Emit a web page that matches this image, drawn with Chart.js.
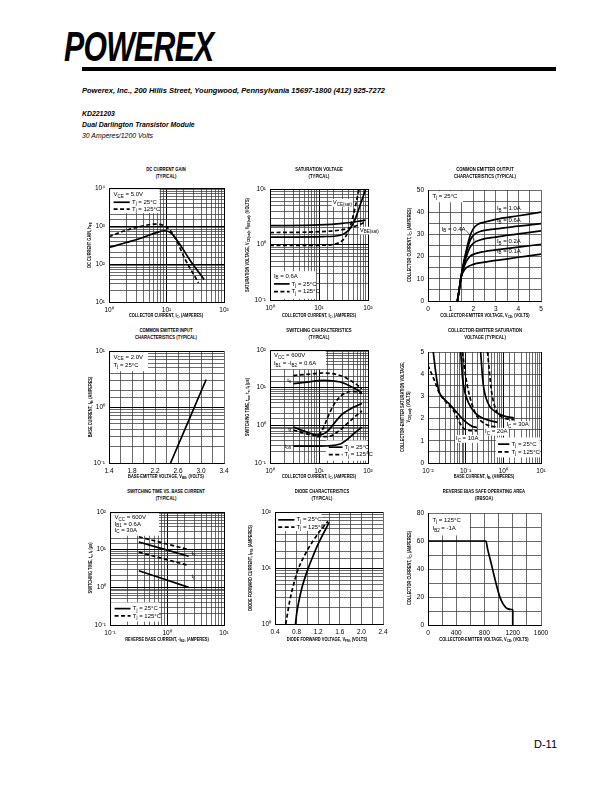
<!DOCTYPE html>
<html>
<head>
<meta charset="utf-8">
<script src="https://cdn.jsdelivr.net/npm/chart.js@4.4.1/dist/chart.umd.min.js"></script>
<style>
body{margin:0;width:612px;height:792px;position:relative;overflow:hidden;background:#fff;color:#000;font-family:"Liberation Sans",Arial,sans-serif}
canvas{position:absolute}
.abs{position:absolute;white-space:nowrap}
#logo{left:64px;top:26px;font:italic bold 42px "Liberation Sans",Arial,sans-serif;line-height:42px;letter-spacing:-1px;transform:scaleX(0.72);transform-origin:0 0}
#rule{left:82px;top:67px;width:474px;height:4px;background:#000}
.hd{left:82px;font:italic bold 8px "Liberation Sans",Arial,sans-serif;line-height:11px;transform:scaleX(0.86);transform-origin:0 0}
#addr{transform:scaleX(0.94)}
.ttl{position:absolute;white-space:nowrap;font-weight:bold;font-size:5.6px;line-height:6.8px;text-align:center;transform:translateX(-50%) scaleX(0.75)}
.xt{position:absolute;white-space:nowrap;font-weight:bold;font-size:4.8px;line-height:5px;text-align:center;transform:translate(-50%,-50%) scaleX(0.82)}
.yt{position:absolute;white-space:nowrap;font-weight:bold;font-size:4.8px;line-height:6px;text-align:center;transform:translate(-50%,-50%) rotate(-90deg) scaleX(0.82)}
.xt sub,.yt sub{font-size:3.8px;vertical-align:baseline;position:relative;top:1.2px}
#page{left:534px;top:738px;font-size:11px}
</style>
</head>
<body>
<div id="logo" class="abs">POWEREX</div>
<div id="rule" class="abs"></div>
<div id="addr" class="abs hd" style="top:85px">Powerex, Inc., 200 Hillis Street, Youngwood, Pennsylvania 15697-1800 (412) 925-7272</div>
<div class="abs hd" style="top:108px">KD221203<br>Dual Darlington Transistor Module<br><span style="font-weight:normal">30 Amperes/1200 Volts</span></div>
<div id="page" class="abs">D-11</div>
<script>
// ---- DC current gain (VCE = 5.0V)
const gainIc25 = [1, 2, 3.9, 6.7, 9.3, 12.2, 17, 26, 45];
const gain25 = [272, 367, 497, 670, 750, 640, 330, 122, 39];
const gainIc125 = [1, 2, 3.9, 6.2, 8.7, 11.4, 15, 21, 36];
const gain125 = [525, 770, 1000, 1120, 1050, 790, 410, 135, 32];

// ---- saturation voltage (IB = 0.6A)
const vbeIc = [1, 10, 30, 60, 88];
const vbe25 = [2.18, 2.25, 2.4, 2.6, 2.75];
const vbe125 = [1.64, 1.7, 1.85, 2.2, 2.55];
const vceIc25 = [1, 12.5, 27, 37, 47, 55, 67, 79, 90];
const vce25 = [1.36, 1.39, 1.47, 1.69, 2.18, 2.9, 4.75, 7.2, 10];
const vceIc125 = [1, 12.5, 23, 32, 40, 49, 57, 66];
const vce125 = [0.96, 0.97, 1.04, 1.24, 1.76, 3.1, 5.5, 10];

// ---- output characteristics (Tj = 25C)
const outV1 = [1.3, 1.38, 1.45, 1.55, 1.7, 2.0, 2.5, 3, 4, 5];
const outIb01 = [0, 5, 10, 13, 15, 16.5, 17.5, 18.3, 19.7, 21.1];
const outV2 = [1.3, 1.38, 1.45, 1.55, 1.7, 1.85, 2.0, 2.5, 3, 4, 5];
const outIb02 = [0, 5, 10, 14, 18, 20, 21, 22.3, 23, 24.3, 25.5];
const outV3 = [1.3, 1.38, 1.45, 1.55, 1.7, 1.85, 2.0, 2.3, 3, 4, 5];
const outIb04 = [0, 5, 10, 15, 20, 24, 26, 27.5, 28.8, 30.2, 31.6];
const outIb06 = [0, 5, 10, 15.5, 22, 27, 29.5, 31.3, 32.5, 33.7, 34.9];
const outV4 = [1.3, 1.38, 1.45, 1.55, 1.7, 1.85, 2.0, 2.2, 2.5, 3, 4, 5];
const outIb10 = [0, 5, 10, 16, 23, 29, 32.5, 34.5, 35.5, 36.8, 38.4, 40];

// ---- input characteristics (VCE = 2.0V)
const inVbe = [2.47, 2.8, 3.09];
const inIb = [0.1, 0.62, 3.1];

// ---- switching characteristics
const tsIc = [3, 5.7, 12.5, 27, 50, 75];
const ts25 = [12.8, 14.1, 15.7, 14.1, 10, 7.4];
const ts125 = [21, 22.6, 24.5, 21, 14, 9.4];
const tfIc25 = [3, 5, 10, 15, 20, 30, 50, 75];
const tf25 = [0.9, 0.7, 0.55, 0.7, 1.1, 2.0, 3.0, 3.8];
const tfIc125 = [3, 5, 9, 12, 15, 20, 30, 50, 75];
const tf125 = [0.75, 0.62, 0.53, 0.8, 1.6, 3.5, 6.5, 8, 7];
const tonIc25 = [3, 10, 27, 40, 55, 75];
const ton25 = [0.28, 0.28, 0.32, 0.45, 0.65, 0.9];
const tonIc125 = [9, 15, 25, 40, 60, 75];
const ton125 = [0.5, 0.5, 0.7, 1.2, 1.9, 2.4];

// ---- CE saturation voltage vs base current
const sat10Ib25 = [0.0138, 0.016, 0.019, 0.022, 0.035, 0.06, 0.1, 0.15, 0.2];
const sat10v25 = [5, 4.1, 3.3, 3.05, 2.7, 2.25, 1.85, 1.65, 1.6];
const sat10Ib125 = [0.01, 0.015, 0.02, 0.03, 0.05, 0.07, 0.09, 0.12, 0.2];
const sat10v125 = [4.4, 3.7, 3.15, 2.75, 2.3, 1.8, 1.55, 1.47, 1.45];
const sat20Ib25 = [0.074, 0.083, 0.095, 0.12, 0.18, 0.3, 0.7];
const sat20v25 = [5, 3.8, 3.2, 2.7, 2.25, 2.0, 1.83];
const sat20Ib125 = [0.082, 0.1, 0.12, 0.15, 0.2, 0.3, 0.5, 0.65];
const sat20v125 = [5, 3.9, 3.2, 2.6, 2.1, 1.8, 1.65, 1.63];
const sat30Ib25 = [0.25, 0.29, 0.39, 0.59, 1.08, 1.9];
const sat30v25 = [5, 3.6, 2.7, 2.33, 2.11, 2.03];
const sat30Ib125 = [0.38, 0.48, 0.59, 0.83, 1.9];
const sat30v125 = [5, 3.3, 2.56, 2.11, 1.95];

// ---- switching time vs reverse base current
const rbIb = [0.32, 2.4];
const rbTs25 = [16, 6.7];
const rbTs125 = [22, 10];
const rbTf125 = [8.6, 3.8];
const rbTf25 = [2.75, 1.0];

// ---- diode characteristics
const diodeV25 = [0.78, 0.8, 0.84, 0.9, 1.0, 1.1, 1.2, 1.3, 1.4];
const diodeI25 = [1, 1.5, 2.5, 4.5, 9, 16, 27, 42, 65];
const diodeV125 = [0.6, 0.63, 0.67, 0.73, 0.82, 0.95, 1.1, 1.25, 1.38];
const diodeI125 = [1, 1.5, 2.5, 4.5, 9, 17, 30, 48, 68];

// ---- RBSOA
const soaV = [0, 820, 845, 890, 935, 980, 1025, 1070, 1130, 1200];
const soaI = [60, 60, 54, 45, 35.5, 26.5, 19, 14.5, 11.5, 11];
const soaDropV = [1200, 1200];
const soaDropI = [11, 0];

// plot areas on the page
const PLOTS = {
  gain: { x: 109, y: 188, w: 115, h: 114 },
  sat: { x: 270, y: 189, w: 98, h: 111 },
  out: { x: 428, y: 190, w: 113, h: 111 },
  inp: { x: 109, y: 351, w: 115, h: 112 },
  sw: { x: 270, y: 350, w: 98, h: 113 },
  cesat: { x: 428, y: 352, w: 113, h: 111 },
  swib: { x: 110, y: 512, w: 114, h: 113 },
  diode: { x: 275, y: 512, w: 108, h: 112 },
  soa: { x: 428, y: 513, w: 113, h: 112 }
};

const PAD_L = 30, PAD_T = 8, PAD_R = 26, PAD_B = 14;
const NOTE_SIZE = 6;
const FONT = '"Liberation Sans", Arial, sans-serif';
Chart.defaults.font.family = FONT;
Chart.defaults.color = '#000';

const tickFont = { family: FONT, size: 6.5 };

function isPow10(v) {
  const l = Math.log10(v);
  return Math.abs(l - Math.round(l)) < 1e-6;
}

function sup(n) {
  const m = { '-': '\u207B', '0': '\u2070', '1': '\u00B9', '2': '\u00B2', '3': '\u00B3', '4': '\u2074' };
  return String(n).split('').map(c => m[c]).join('');
}

function fitFor(pos) {
  return pos === 'left' ? s => { s.width = PAD_L; } : s => { s.height = PAD_B; };
}

function logAxis(min, max, pos) {
  return {
    type: 'logarithmic', position: pos, min, max,
    border: { color: '#000', width: 1 },
    grid: {
      drawTicks: false,
      color: c => (c.tick && isPow10(c.tick.value)) ? '#000' : '#3a3a3a',
      lineWidth: c => (c.tick && isPow10(c.tick.value)) ? 1 : 0.75
    },
    ticks: {
      autoSkip: false, maxRotation: 0, minRotation: 0, font: tickFont, color: '#000', padding: 4,
      callback: v => isPow10(v) ? '10' + sup(Math.round(Math.log10(v))) : ''
    },
    afterFit: fitFor(pos)
  };
}

function linAxis(min, max, step, every, dec, pos) {
  return {
    type: 'linear', position: pos, min, max,
    border: { color: '#000', width: 1 },
    grid: { drawTicks: false, color: '#3a3a3a', lineWidth: 0.75 },
    ticks: {
      stepSize: step, autoSkip: false, maxTicksLimit: 50, maxRotation: 0, minRotation: 0,
      font: tickFont, color: '#000', padding: 4,
      callback: v => {
        const k = (v - min) / every;
        return Math.abs(k - Math.round(k)) < 1e-6 ? v.toFixed(dec) : '';
      }
    },
    afterFit: fitFor(pos)
  };
}

function curve(xs, ys, dashed, straight) {
  return {
    data: xs.map((x, i) => ({ x, y: ys[i] })),
    borderColor: '#000',
    borderWidth: 1.7,
    borderDash: dashed ? [4, 2.5] : [],
    pointRadius: 0,
    fill: false,
    tension: straight ? 0 : 0.4,
    cubicInterpolationMode: straight ? 'default' : 'monotone'
  };
}

// text with _{...} subscripts
function drawRich(ctx, str, x, y, size, align, bg) {
  const parts = [];
  const re = /_\{([^}]*)\}/g;
  let last = 0, m;
  while ((m = re.exec(str))) {
    if (m.index > last) parts.push({ t: str.slice(last, m.index), sub: false });
    parts.push({ t: m[1], sub: true });
    last = re.lastIndex;
  }
  if (last < str.length) parts.push({ t: str.slice(last), sub: false });
  let w = 0;
  parts.forEach(p => {
    ctx.font = (p.sub ? size * 0.75 : size) + 'px ' + FONT;
    p.w = ctx.measureText(p.t).width;
    w += p.w;
  });
  let cx = align === 'right' ? x - w : align === 'center' ? x - w / 2 : x;
  if (bg) {
    ctx.fillStyle = '#fff';
    ctx.fillRect(cx - 1, y - size * 0.6, w + 2, size * 1.3);
  }
  ctx.fillStyle = '#000';
  ctx.textAlign = 'left';
  ctx.textBaseline = 'middle';
  parts.forEach(p => {
    ctx.font = (p.sub ? size * 0.75 : size) + 'px ' + FONT;
    ctx.fillText(p.t, cx, p.sub ? y + size * 0.3 : y);
    cx += p.w;
  });
}

const notesPlugin = {
  id: 'notes',
  beforeDatasetsDraw(chart) {
    const notes = chart.canvas.notes || {};
    const { ctx, chartArea: a } = chart;
    ctx.save();
    ctx.fillStyle = '#fff';
    (notes.boxes || []).forEach(b => {
      ctx.fillRect(a.left + b[0] * a.width, a.top + b[1] * a.height, b[2] * a.width, b[3] * a.height);
    });
    ctx.restore();
  },
  afterDatasetsDraw(chart) {
    const notes = chart.canvas.notes || {};
    const { ctx, chartArea: a, scales } = chart;
    const px = it => it.fx !== undefined ? a.left + it.fx * a.width : scales.x.getPixelForValue(it.x);
    const py = it => it.fy !== undefined ? a.top + it.fy * a.height : scales.y.getPixelForValue(it.y);
    ctx.save();
    ctx.strokeStyle = '#000';
    // legend line samples: [fx1, fx2, fy, dashed]
    (notes.samples || []).forEach(s => {
      ctx.lineWidth = 1.7;
      ctx.setLineDash(s[3] ? [4, 2.5] : []);
      ctx.beginPath();
      ctx.moveTo(a.left + s[0] * a.width, a.top + s[2] * a.height);
      ctx.lineTo(a.left + s[1] * a.width, a.top + s[2] * a.height);
      ctx.stroke();
    });
    ctx.setLineDash([]);
    // leader lines in data units: [x1, y1, x2, y2]
    (notes.leaders || []).forEach(l => {
      ctx.lineWidth = 0.6;
      ctx.beginPath();
      ctx.moveTo(scales.x.getPixelForValue(l[0]), scales.y.getPixelForValue(l[1]));
      ctx.lineTo(scales.x.getPixelForValue(l[2]), scales.y.getPixelForValue(l[3]));
      ctx.stroke();
    });
    (notes.texts || []).forEach(t => drawRich(ctx, t.t, px(t), py(t), NOTE_SIZE, t.al || 'left', t.bg));
    ctx.restore();
  }
};

function makeChart(plot, xScale, yScale, datasets, notes) {
  const canvas = document.createElement('canvas');
  canvas.width = plot.w + PAD_L + PAD_R;
  canvas.height = plot.h + PAD_T + PAD_B;
  canvas.style.left = (plot.x - PAD_L) + 'px';
  canvas.style.top = (plot.y - PAD_T) + 'px';
  canvas.notes = notes;
  document.body.appendChild(canvas);
  return new Chart(canvas, {
    type: 'line',
    data: { datasets },
    options: {
      responsive: false,
      animation: false,
      events: [],
      layout: { padding: { left: 0, top: PAD_T, right: PAD_R, bottom: 0 } },
      scales: { x: xScale, y: yScale },
      plugins: { legend: { display: false }, tooltip: { enabled: false } }
    },
    plugins: [notesPlugin]
  });
}

function addText(cls, x, y, html) {
  const d = document.createElement('div');
  d.className = cls;
  d.style.left = x + 'px';
  d.style.top = y + 'px';
  d.innerHTML = html;
  document.body.appendChild(d);
}

const TJ25 = 'T_{j} = 25\u00B0C', TJ125 = 'T_{j} = 125\u00B0C';

// 1. DC current gain
makeChart(PLOTS.gain, logAxis(1, 100, 'bottom'), logAxis(10, 10000, 'left'), [
  curve(gainIc25, gain25, false),
  curve(gainIc125, gain125, true)
], {
  boxes: [[0.01, 0.01, 0.43, 0.21]],
  samples: [[0.04, 0.18, 0.125, false], [0.04, 0.18, 0.185, true]],
  texts: [
    { fx: 0.04, fy: 0.06, t: 'V_{CE} = 5.0V' },
    { fx: 0.2, fy: 0.125, t: TJ25 },
    { fx: 0.2, fy: 0.185, t: TJ125 }
  ]
});

// 2. saturation voltage
makeChart(PLOTS.sat, logAxis(1, 100, 'bottom'), logAxis(0.1, 10, 'left'), [
  curve(vbeIc, vbe25, false),
  curve(vbeIc, vbe125, true),
  curve(vceIc25, vce25, false),
  curve(vceIc125, vce125, true)
], {
  boxes: [[0.01, 0.74, 0.46, 0.25]],
  samples: [[0.04, 0.2, 0.855, false], [0.04, 0.2, 0.925, true]],
  texts: [
    { fx: 0.04, fy: 0.785, t: 'I_{B} = 0.6A' },
    { fx: 0.22, fy: 0.855, t: TJ25 },
    { fx: 0.22, fy: 0.925, t: TJ125 },
    { x: 30, y: 5.7, t: 'V_{CE(sat)}', al: 'center', bg: true },
    { x: 68, y: 1.8, t: 'V_{BE(sat)}', bg: true }
  ]
});

// 3. output characteristics
makeChart(PLOTS.out, linAxis(0, 5, 0.5, 1, 0, 'bottom'), linAxis(0, 50, 5, 10, 0, 'left'), [
  curve(outV1, outIb01, false),
  curve(outV2, outIb02, false),
  curve(outV3, outIb04, false),
  curve(outV3, outIb06, false),
  curve(outV4, outIb10, false)
], {
  boxes: [[0.01, 0.01, 0.3, 0.1]],
  leaders: [[1.68, 31.8, 2.08, 27.2]],
  texts: [
    { fx: 0.04, fy: 0.055, t: TJ25 },
    { x: 3.05, y: 41.6, t: 'I_{B} = 1.0A' },
    { x: 3.05, y: 36.2, t: 'I_{B} = 0.6A' },
    { x: 1.66, y: 32.4, t: 'I_{B} = 0.4A', al: 'right' },
    { x: 3.05, y: 26.8, t: 'I_{B} = 0.2A' },
    { x: 3.05, y: 22.4, t: 'I_{B} = 0.1A' }
  ]
});

// 4. input characteristics
makeChart(PLOTS.inp, linAxis(1.4, 3.4, 0.2, 0.4, 1, 'bottom'), logAxis(0.1, 10, 'left'), [
  curve(inVbe, inIb, false)
], {
  boxes: [[0.01, 0.01, 0.33, 0.17]],
  texts: [
    { fx: 0.04, fy: 0.055, t: 'V_{CE} = 2.0V' },
    { fx: 0.04, fy: 0.125, t: TJ25 }
  ]
});

// 5. switching characteristics
makeChart(PLOTS.sw, logAxis(1, 100, 'bottom'), logAxis(0.1, 100, 'left'), [
  curve(tsIc, ts25, false),
  curve(tsIc, ts125, true),
  curve(tfIc25, tf25, false),
  curve(tfIc125, tf125, true),
  curve(tonIc25, ton25, false),
  curve(tonIc125, ton125, true)
], {
  boxes: [[0.01, 0.01, 0.56, 0.16], [0.57, 0.8, 0.42, 0.18]],
  samples: [[0.6, 0.74, 0.86, false], [0.6, 0.74, 0.925, true]],
  texts: [
    { fx: 0.04, fy: 0.05, t: 'V_{CC} = 600V' },
    { fx: 0.04, fy: 0.12, t: 'I_{B1} = -I_{B2} = 0.6A' },
    { x: 2.7, y: 15.6, t: 't_{s}', al: 'right' },
    { x: 2.7, y: 0.8, t: 't_{f}', al: 'right' },
    { x: 2.7, y: 0.28, t: 't_{on}', al: 'right' },
    { fx: 0.76, fy: 0.86, t: TJ25 },
    { fx: 0.76, fy: 0.925, t: TJ125 }
  ]
});

// 6. collector-emitter saturation voltage
makeChart(PLOTS.cesat, logAxis(0.01, 10, 'bottom'), linAxis(0, 5, 0.5, 1, 0, 'left'), [
  curve(sat10Ib25, sat10v25, false),
  curve(sat10Ib125, sat10v125, true),
  curve(sat20Ib25, sat20v25, false),
  curve(sat20Ib125, sat20v125, true),
  curve(sat30Ib25, sat30v25, false),
  curve(sat30Ib125, sat30v125, true)
], {
  boxes: [[0.6, 0.77, 0.39, 0.18]],
  samples: [[0.62, 0.72, 0.83, false], [0.62, 0.72, 0.9, true]],
  texts: [
    { fx: 0.74, fy: 0.83, t: TJ25 },
    { fx: 0.74, fy: 0.9, t: TJ125 },
    { x: 0.11, y: 1.1, t: 'I_{C} = 10A', al: 'center', bg: true },
    { x: 0.65, y: 1.42, t: 'I_{C} = 20A', al: 'center', bg: true },
    { x: 2.4, y: 1.72, t: 'I_{C} = 30A', al: 'center', bg: true }
  ]
});

// 7. switching time vs base current
makeChart(PLOTS.swib, logAxis(0.1, 10, 'bottom'), logAxis(0.1, 100, 'left'), [
  curve(rbIb, rbTs25, false),
  curve(rbIb, rbTs125, true),
  curve(rbIb, rbTf125, true),
  curve(rbIb, rbTf25, false)
], {
  boxes: [[0.01, 0.01, 0.42, 0.2], [0.01, 0.8, 0.42, 0.17]],
  samples: [[0.04, 0.18, 0.855, false], [0.04, 0.18, 0.92, true]],
  texts: [
    { fx: 0.04, fy: 0.05, t: 'V_{CC} = 600V' },
    { fx: 0.04, fy: 0.105, t: 'I_{B1} = 0.6A' },
    { fx: 0.04, fy: 0.16, t: 'I_{C} = 30A' },
    { fx: 0.2, fy: 0.855, t: TJ25 },
    { fx: 0.2, fy: 0.92, t: TJ125 },
    { x: 2.7, y: 8, t: 't_{s}' },
    { x: 2.7, y: 1.9, t: 't_{f}' }
  ]
});

// 8. diode characteristics
makeChart(PLOTS.diode, linAxis(0.4, 2.4, 0.2, 0.4, 1, 'bottom'), logAxis(1, 100, 'left'), [
  curve(diodeV25, diodeI25, false),
  curve(diodeV125, diodeI125, true)
], {
  boxes: [[0.01, 0.01, 0.42, 0.16]],
  samples: [[0.03, 0.18, 0.07, false], [0.03, 0.18, 0.135, true]],
  texts: [
    { fx: 0.2, fy: 0.07, t: TJ25 },
    { fx: 0.2, fy: 0.135, t: TJ125 }
  ]
});

// 9. RBSOA
makeChart(PLOTS.soa, linAxis(0, 1600, 200, 400, 0, 'bottom'), linAxis(0, 80, 10, 20, 0, 'left'), [
  curve(soaV, soaI, false),
  curve(soaDropV, soaDropI, false, true)
], {
  boxes: [[0.01, 0.01, 0.36, 0.19]],
  texts: [
    { fx: 0.04, fy: 0.065, t: 'T_{j} = 125\u00B0C' },
    { fx: 0.04, fy: 0.14, t: 'I_{B2} = -1A' }
  ]
});

// chart titles
addText('ttl', 166, 166, 'DC CURRENT GAIN<br>(TYPICAL)');
addText('ttl', 319, 166, 'SATURATION VOLTAGE<br>(TYPICAL)');
addText('ttl', 485, 166, 'COMMON EMITTER OUTPUT<br>CHARACTERISTICS (TYPICAL)');
addText('ttl', 166, 327, 'COMMON EMITTER INPUT<br>CHARACTERISTICS (TYPICAL)');
addText('ttl', 319, 327, 'SWITCHING CHARACTERISTICS<br>(TYPICAL)');
addText('ttl', 485, 327, 'COLLECTOR-EMITTER SATURATION<br>VOLTAGE (TYPICAL)');
addText('ttl', 166, 488, 'SWITCHING TIME VS. BASE CURRENT<br>(TYPICAL)');
addText('ttl', 322, 488, 'DIODE CHARACTERISTICS<br>(TYPICAL)');
addText('ttl', 484, 488, 'REVERSE BIAS SAFE OPERATING AREA<br>(RBSOA)');

// x axis titles
addText('xt', 166, 316, 'COLLECTOR CURRENT, I<sub>C</sub>, (AMPERES)');
addText('xt', 319, 316, 'COLLECTOR CURRENT, I<sub>C</sub>, (AMPERES)');
addText('xt', 485, 316, 'COLLECTOR-EMITTER VOLTAGE, V<sub>CE</sub>, (VOLTS)');
addText('xt', 166, 477, 'BASE-EMITTER VOLTAGE, V<sub>BE</sub>, (VOLTS)');
addText('xt', 319, 477, 'COLLECTOR CURRENT, I<sub>C</sub>, (AMPERES)');
addText('xt', 484, 477, 'BASE CURRENT, I<sub>B</sub>, (AMPERES)');
addText('xt', 167, 640, 'REVERSE BASE CURRENT, -I<sub>B2</sub>, (AMPERES)');
addText('xt', 327, 640, 'DIODE FORWARD VOLTAGE, V<sub>FM</sub>, (VOLTS)');
addText('xt', 484, 640, 'COLLECTOR-EMITTER VOLTAGE, V<sub>CE</sub>, (VOLTS)');

// y axis titles
addText('yt', 90, 245, 'DC CURRENT GAIN, h<sub>FE</sub>');
addText('yt', 248, 245, 'SATURATION VOLTAGE, V<sub>CE(sat)</sub>, V<sub>BE(sat)</sub>, (VOLTS)');
addText('yt', 410, 245, 'COLLECTOR CURRENT, I<sub>C</sub>, (AMPERES)');
addText('yt', 91, 407, 'BASE CURRENT, I<sub>B</sub>, (AMPERES)');
addText('yt', 248, 407, 'SWITCHING TIME, t<sub>on</sub>, t<sub>s</sub>, t<sub>f</sub> (\u00B5s)');
addText('yt', 406, 407, 'COLLECTOR-EMITTER SATURATION VOLTAGE,<br>V<sub>CE(sat)</sub>, (VOLTS)');
addText('yt', 91, 568, 'SWITCHING TIME, t<sub>s</sub>, t<sub>f</sub> (\u00B5s)');
addText('yt', 251, 568, 'DIODE FORWARD CURRENT, I<sub>FM</sub>, (AMPERES)');
addText('yt', 410, 568, 'COLLECTOR CURRENT, I<sub>C</sub>, (AMPERES)');
</script>
</body>
</html>
